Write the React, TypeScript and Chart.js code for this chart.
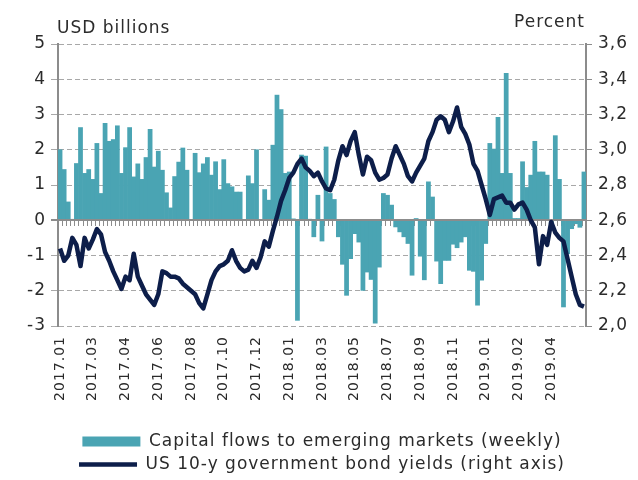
import React, { useEffect, useRef } from 'react';
import { Chart, registerables } from 'chart.js';

Chart.register(...registerables);

// Tick labels shown every 8 weeks along the category axis
const tickLabels = [
  '2017.01', '2017.03', '2017.04', '2017.06', '2017.08', '2017.10', '2017.12',
  '2018.01', '2018.03', '2018.05', '2018.07', '2018.09', '2018.11',
  '2019.01', '2019.02', '2019.04',
];
const tickEvery = 8;

// Weekly capital flows to emerging markets, USD billions
const capitalFlows = [
  2.0, 1.44, 0.52, 0.02, 1.61, 2.63, 1.33, 1.44, 1.16, 2.18,
  0.76, 2.75, 2.24, 2.29, 2.68, 1.33, 2.06, 2.63, 1.23, 1.6,
  1.16, 1.78, 2.58, 1.51, 1.96, 1.42, 0.78, 0.35, 1.24, 1.65,
  2.05, 1.42, 0.0, 1.9, 1.35, 1.6, 1.78, 1.28, 1.66, 0.87,
  1.72, 1.04, 0.95, 0.8, 0.8, 0.0, 1.26, 1.04, 2.0, 0.0,
  0.87, 0.57, 2.13, 3.55, 3.14, 1.33, 1.37, 0.04, -2.84, 1.85,
  1.82, 0.03, -0.47, 0.71, -0.59, 2.08, 0.76, 0.59, -0.47, -1.25,
  -2.13, -1.09, -0.38, -0.62, -1.99, -1.47, -1.68, -2.92, -1.33, 0.76,
  0.71, 0.43, -0.19, -0.33, -0.47, -0.66, -1.56, 0.05, -1.02, -1.69,
  1.09, 0.66, -1.16, -1.8, -1.14, -1.14, -0.68, -0.78, -0.62, -0.47,
  -1.42, -1.45, -2.41, -1.7, -0.66, 2.18, 2.02, 2.92, 1.33, 4.17,
  1.33, 0.05, 0.05, 1.66, 0.93, 1.28, 2.24, 1.37, 1.37, 1.28,
  -0.1, 2.4, 1.16, -2.46, -0.95, -0.24, -0.1, -0.2, 1.37,
];

// US 10-year government bond yields, percent (right axis)
const bondYields = [
  2.44, 2.37, 2.40, 2.50, 2.46, 2.34, 2.50, 2.44, 2.49, 2.55,
  2.52, 2.42, 2.37, 2.31, 2.26, 2.21, 2.28, 2.26, 2.41, 2.28,
  2.23, 2.18, 2.15, 2.12, 2.18, 2.31, 2.30, 2.28, 2.28, 2.27,
  2.24, 2.22, 2.20, 2.18, 2.13, 2.10, 2.18, 2.26, 2.31, 2.34,
  2.35, 2.37, 2.43, 2.37, 2.33, 2.31, 2.32, 2.37, 2.33, 2.39,
  2.48, 2.45, 2.54, 2.62, 2.71, 2.77, 2.84, 2.87, 2.92, 2.95,
  2.90, 2.88, 2.85, 2.87, 2.82, 2.78, 2.77, 2.83, 2.94, 3.02,
  2.97, 3.05, 3.10, 2.97, 2.86, 2.96, 2.94, 2.87, 2.83, 2.84,
  2.86, 2.95, 3.02, 2.97, 2.92, 2.85, 2.82, 2.87, 2.91, 2.95,
  3.05, 3.10, 3.17, 3.19, 3.17, 3.10, 3.16, 3.24, 3.13, 3.09,
  3.03, 2.92, 2.88, 2.80, 2.72, 2.63, 2.72, 2.73, 2.74, 2.70,
  2.70, 2.66, 2.69, 2.70, 2.66, 2.60, 2.56, 2.35, 2.51, 2.46,
  2.59, 2.53, 2.50, 2.48, 2.38, 2.28, 2.18, 2.12, 2.11,
];

const weekCategories = capitalFlows.map((_, i) => `W${i + 1}`);

const FONT = "'DejaVu Sans', 'Liberation Sans', sans-serif";
const TEAL = '#4AA4B3';
const NAVY = '#0D1E4A';
const AXIS_GREY = '#8C8C8C';
const GRID_GREY = '#A8A8A8';
const TEXT = '#2b2b2b';
const SPACING = '1px';

const setSpacing = (chart: any) => {
  if (chart.ctx && 'letterSpacing' in chart.ctx) chart.ctx.letterSpacing = SPACING;
};

const decorations = {
  id: 'decorations',
  beforeUpdate(chart: any) {
    setSpacing(chart);
  },
  beforeLayout(chart: any) {
    setSpacing(chart);
  },
  beforeDraw(chart: any) {
    setSpacing(chart);
  },
  beforeDatasetsDraw(chart: any) {
    const { ctx, scales } = chart;
    const x = scales.x;
    const y = scales.y;
    const y0 = Math.round(y.getPixelForValue(0));
    const n = chart.data.labels.length;
    const half = (x.getPixelForValue(1) - x.getPixelForValue(0)) / 2;
    ctx.save();
    ctx.strokeStyle = AXIS_GREY;
    ctx.lineWidth = 1;
    ctx.beginPath();
    for (let i = 0; i <= n; i++) {
      const px = Math.round(x.getPixelForValue(i) - half) + 0.5;
      ctx.moveTo(px, y0);
      ctx.lineTo(px, y0 + 6);
    }
    ctx.stroke();
    ctx.restore();
  },
  afterDatasetDraw(chart: any, args: any) {
    if (args.index !== 0) return;
    const { ctx, chartArea, scales } = chart;
    const y0 = Math.round(scales.y.getPixelForValue(0));
    ctx.save();
    ctx.strokeStyle = AXIS_GREY;
    ctx.lineWidth = 2;
    ctx.beginPath();
    ctx.moveTo(chartArea.left - 7, y0);
    ctx.lineTo(chartArea.right, y0);
    ctx.stroke();
    ctx.restore();
  },
  afterDraw(chart: any) {
    const { ctx, chartArea } = chart;
    ctx.save();
    setSpacing(chart);
    ctx.fillStyle = TEXT;
    ctx.font = `17px ${FONT}`;
    ctx.textBaseline = 'alphabetic';
    ctx.textAlign = 'left';
    ctx.fillText('USD billions', chartArea.left - 1, 33);
    ctx.textAlign = 'right';
    ctx.fillText('Percent', chartArea.right - 1, 27);
    ctx.restore();
  },
};

export default function App() {
  const canvasRef = useRef<HTMLCanvasElement | null>(null);

  useEffect(() => {
    if (!canvasRef.current) return;
    Chart.defaults.font.family = FONT;
    const chart = new Chart(canvasRef.current, {
      type: 'bar',
      data: {
        labels: weekCategories,
        datasets: [
          {
            type: 'bar',
            label: 'Capital flows to emerging markets (weekly)',
            data: capitalFlows,
            backgroundColor: TEAL,
            borderWidth: 0,
            barPercentage: 1,
            categoryPercentage: 1,
            yAxisID: 'y',
            order: 1,
            pointStyle: 'rect',
          } as any,
          {
            type: 'line',
            label: 'US 10-y government bond yields (right axis)',
            data: bondYields,
            borderColor: NAVY,
            backgroundColor: NAVY,
            borderWidth: 4.5,
            pointRadius: 0,
            pointHoverRadius: 0,
            pointBorderWidth: 4.5,
            pointBorderColor: NAVY,
            pointStyle: 'line',
            tension: 0,
            borderJoinStyle: 'round',
            yAxisID: 'y1',
            order: 0,
          } as any,
        ],
      },
      options: {
        responsive: false,
        animation: false,
        devicePixelRatio: 1,
        layout: { padding: { top: 44, left: 0, right: 0, bottom: -3 } },
        plugins: {
          tooltip: { enabled: false },
          title: { display: false },
          legend: {
            display: true,
            position: 'bottom',
            fullSize: false,
            labels: {
              usePointStyle: true,
              pointStyleWidth: 58,
              boxHeight: 10,
              padding: 6,
              color: TEXT,
              font: { size: 17, family: FONT },
              sort: (a: any, b: any) => a.datasetIndex - b.datasetIndex,
            },
          },
        },
        scales: {
          x: {
            type: 'category',
            offset: true,
            grid: { display: false, drawTicks: false },
            border: { display: false },
            ticks: {
              autoSkip: false,
              maxRotation: 90,
              minRotation: 90,
              padding: 10,
              color: TEXT,
              font: { size: 14, family: FONT },
              callback: (_v: any, index: number) =>
                index % tickEvery === 0 ? tickLabels[index / tickEvery] ?? '' : '',
            },
            afterFit: (s: any) => {
              s.height = 101;
            },
          },
          y: {
            type: 'linear',
            position: 'left',
            min: -3,
            max: 5,
            ticks: {
              stepSize: 1,
              padding: 5,
              color: TEXT,
              font: { size: 17, family: FONT },
            },
            grid: {
              color: (c: any) => (c.tick && c.tick.value === 0 ? AXIS_GREY : GRID_GREY),
              lineWidth: (c: any) => (c.tick && c.tick.value === 0 ? 2 : 1),
              tickLength: 7,
            },
            border: {
              display: true,
              color: AXIS_GREY,
              width: 2,
              dash: (c: any) => (c.tick && c.tick.value === 0 ? [] : [5, 3]),
            } as any,
            afterFit: (s: any) => {
              s.width = 58;
            },
          },
          y1: {
            type: 'linear',
            position: 'right',
            min: 2.0,
            max: 3.6,
            ticks: {
              stepSize: 0.2,
              padding: 6,
              color: TEXT,
              font: { size: 17, family: FONT },
              callback: (v: any) => Number(v).toFixed(1).replace('.', ','),
            },
            grid: {
              drawOnChartArea: false,
              color: AXIS_GREY,
              lineWidth: 1,
              tickLength: 6,
            },
            border: { display: true, color: AXIS_GREY, width: 2 },
            afterFit: (s: any) => {
              s.width = 52;
            },
          },
        },
      },
      plugins: [decorations],
    });
    return () => {
      chart.destroy();
    };
  }, []);

  return (
    <div style={{ position: 'absolute', left: 0, top: 0, width: 638, height: 480, background: '#fff' }}>
      <canvas ref={canvasRef} width={638} height={480} />
    </div>
  );
}
